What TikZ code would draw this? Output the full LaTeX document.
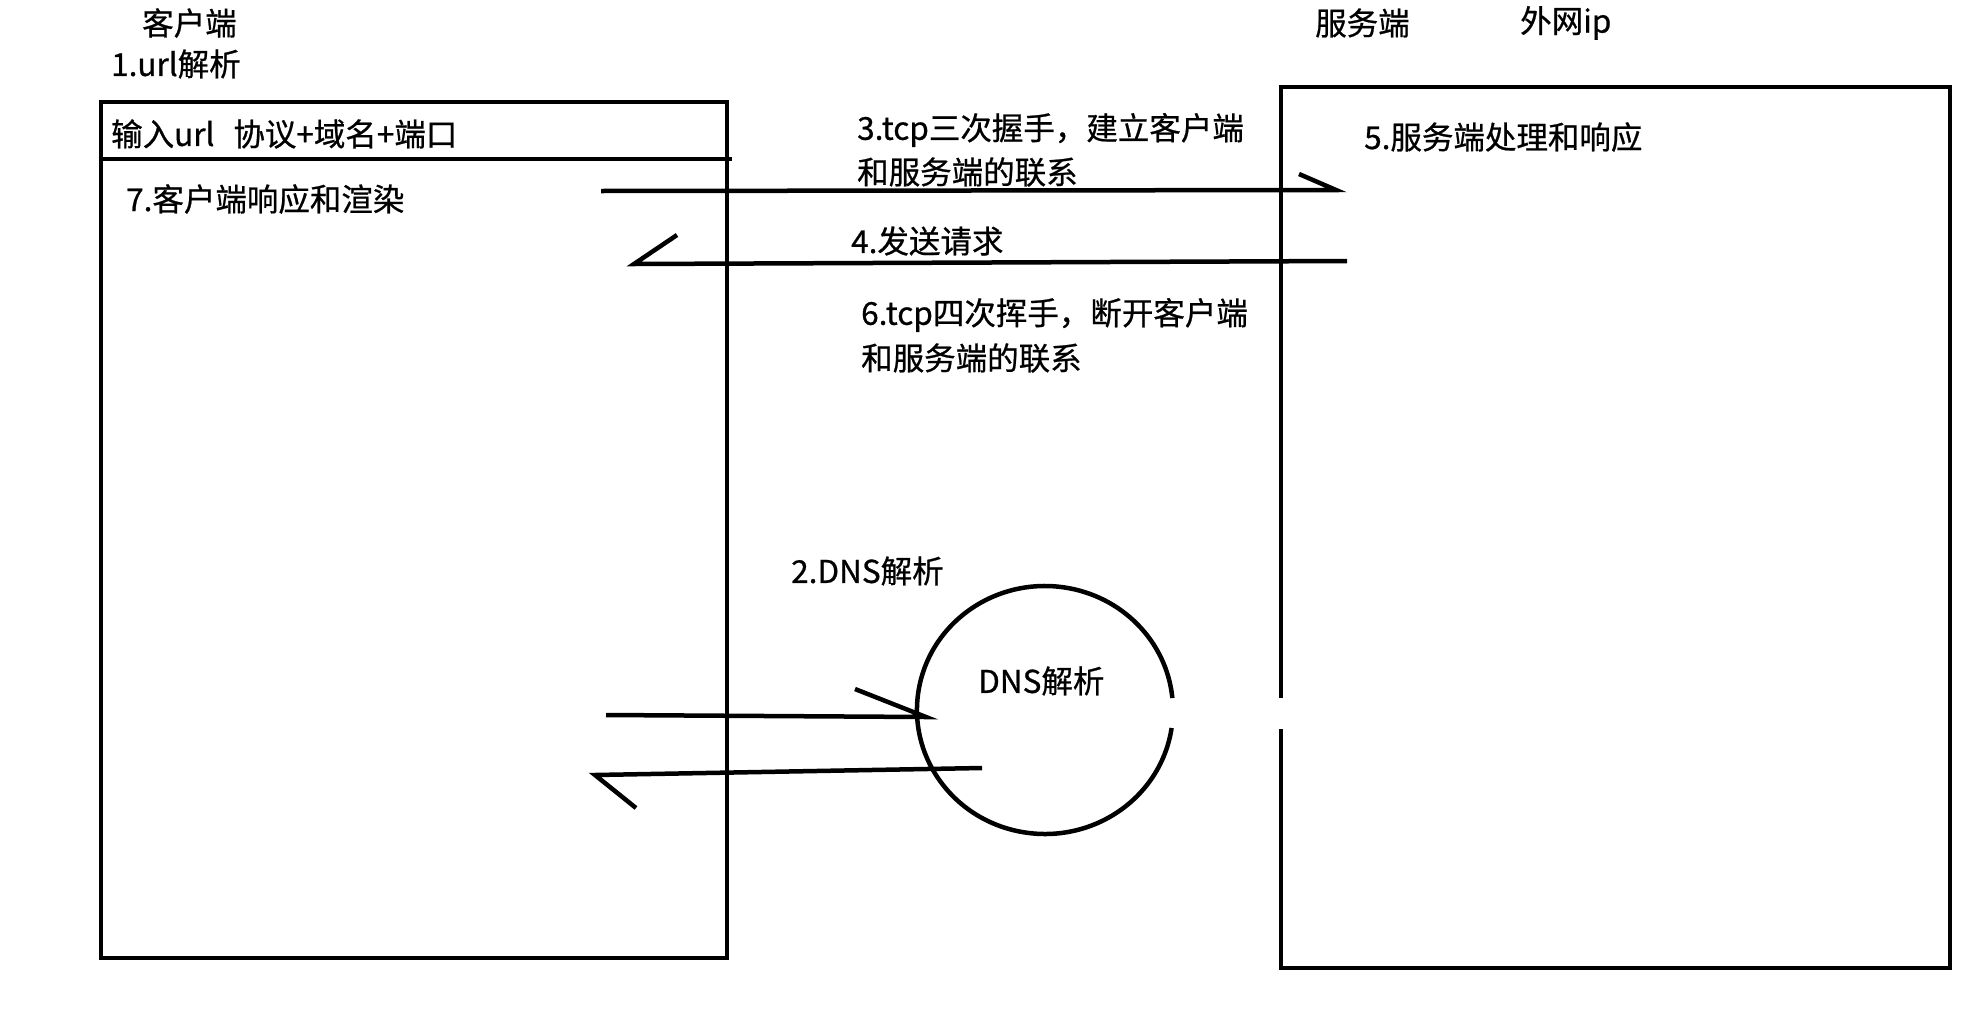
\documentclass[tikz,border=0pt]{standalone}
\usepackage{fontspec}
\setmainfont{Noto Sans CJK SC}[FakeBold=0.7]
\begin{document}
\begin{tikzpicture}[x=1pt,y=-1pt,
  lbl/.style={anchor=west, inner sep=0pt, font=\fontsize{31.5}{36}\selectfont},
  box/.style={draw, line width=4.5pt},
  conn/.style={draw, line width=4.5pt}]
\useasboundingbox[fill=white] (0,0) rectangle (1980,1020);

% client box
\coordinate (c1) at (101,102);
\coordinate (c2) at (727,958);
\draw[box] (c1) rectangle (c2);
\coordinate (d1) at (101,159);
\coordinate (d2) at (732,159);
\draw[box] (d1) -- (d2);

% server box with gap
\coordinate (s1) at (1281,698);
\coordinate (s2) at (1281,87);
\coordinate (s3) at (1950,87);
\coordinate (s4) at (1950,968);
\coordinate (s5) at (1281,968);
\coordinate (s6) at (1281,729);
\draw[box] (s1) -- (s2) -- (s3) -- (s4) -- (s5) -- (s6);

% DNS ellipse with gap
\coordinate (e0) at (1171.6,728);
\draw[line width=4.5pt] (e0) arc[start angle=8.35, end angle=354.45, x radius=128, y radius=124];

% labels
\node[lbl] (tclient) at (142,23) {客户端};
\node[lbl] (turl) at (111,64) {1.url解析};
\node[lbl] (tinput) at (111,134) {输入url\hspace{0.6em}协议+域名+端口};
\node[lbl] (t7) at (126,199) {7.客户端响应和渲染};
\node[lbl] (tserver) at (1315,23) {服务端};
\node[lbl] (tip) at (1520,23) {外网ip};
\node[lbl] (t5) at (1364,137) {5.服务端处理和响应};
\node[lbl] (t3a) at (857,130) {3.tcp三次握手，建立客户端};
\node[lbl] (t3b) at (857,172) {和服务端的联系};
\node[lbl] (t4) at (851,241) {4.发送请求};
\node[lbl] (t6a) at (861,315) {6.tcp四次挥手，断开客户端};
\node[lbl] (t6b) at (861,358) {和服务端的联系};
\node[lbl] (t2) at (791,571) {2.DNS解析};
\node[lbl] (tdns) at (978,681) {DNS解析};

% arrows
\coordinate (a1s) at (601,191);
\coordinate (a1e) at (1336,190);
\coordinate (a1b) at (1299,174);
\draw[conn] (a1s) -- (a1e) -- (a1b);

\coordinate (a2s) at (1347,261);
\coordinate (a2e) at (634,264);
\coordinate (a2b) at (677,235);
\draw[conn] (a2s) -- (a2e) -- (a2b);

\coordinate (a3s) at (606,715);
\coordinate (a3e) at (926,717);
\coordinate (a3b) at (855,689);
\draw[conn] (a3s) -- (a3e) -- (a3b);

\coordinate (a4s) at (982,768);
\coordinate (a4e) at (595,775);
\coordinate (a4b) at (636,808);
\draw[conn] (a4s) -- (a4e) -- (a4b);
\end{tikzpicture}
\end{document}
